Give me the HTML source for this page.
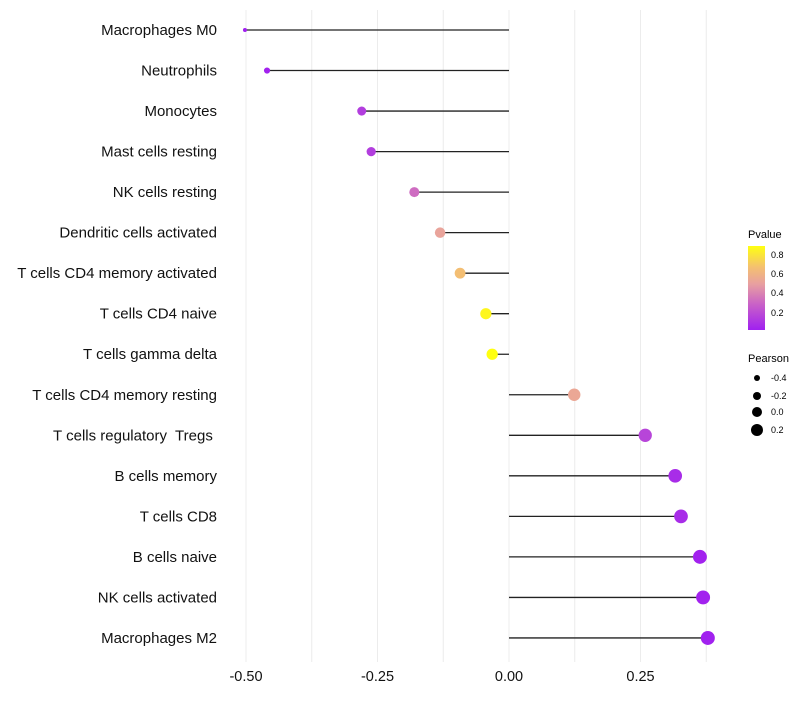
<!DOCTYPE html>
<html><head><meta charset="utf-8"><style>
body{margin:0;background:#fff;font-family:"Liberation Sans",sans-serif}
</style></head><body>
<svg id="chart" width="800" height="700" xmlns="http://www.w3.org/2000/svg">
<defs><linearGradient id="pg" x1="0" y1="1" x2="0" y2="0">
<stop offset="0" stop-color="#a020f0"/><stop offset="0.3" stop-color="#c860c8"/><stop offset="0.55" stop-color="#e8a0a0"/><stop offset="0.75" stop-color="#f4c070"/><stop offset="1" stop-color="#ffff10"/>
</linearGradient></defs>
<g id="grid"></g><g id="marks"></g><g id="labels"></g>
<g>
<text x="748" y="238" font-size="11">Pvalue</text>
<rect x="748" y="246" width="17" height="84" fill="url(#pg)"/>
<text x="771" y="258" font-size="9">0.8</text><text x="771" y="277" font-size="9">0.6</text>
<text x="771" y="296" font-size="9">0.4</text><text x="771" y="316" font-size="9">0.2</text>
</g>
<g>
<text x="748" y="362" font-size="11">Pearson</text>
<circle cx="757" cy="378" r="3"/><text x="771" y="381" font-size="9">-0.4</text>
<circle cx="757" cy="396" r="4"/><text x="771" y="399" font-size="9">-0.2</text>
<circle cx="757" cy="412" r="5"/><text x="771" y="415" font-size="9">0.0</text>
<circle cx="757" cy="430" r="6"/><text x="771" y="433" font-size="9">0.2</text>
</g>
</svg>
<script>
const categories=["Macrophages M0","Neutrophils","Monocytes","Mast cells resting","NK cells resting","Dendritic cells activated","T cells CD4 memory activated","T cells CD4 naive","T cells gamma delta","T cells CD4 memory resting","T cells regulatory  Tregs ","B cells memory","T cells CD8","B cells naive","NK cells activated","Macrophages M2"];
const pearson=[-0.502,-0.46,-0.28,-0.262,-0.18,-0.131,-0.093,-0.044,-0.032,0.124,0.259,0.316,0.327,0.363,0.369,0.378];
const pvalue=[0.001,0.01,0.12,0.12,0.3,0.5,0.65,0.85,0.9,0.52,0.15,0.05,0.05,0.01,0.01,0.005];
const ticks=[-0.5,-0.25,0,0.25];
const tickLabels=["-0.50","-0.25","0.00","0.25"];
const NS="http://www.w3.org/2000/svg";
const x=v=>509+v*526;
const y=i=>30+i*40.53;
const rad=v=>2+5*Math.sqrt(Math.max(0,(v+0.502)/0.88));
const stops=[[0,[160,32,240]],[0.26,[200,96,200]],[0.48,[232,160,160]],[0.66,[244,192,112]],[0.88,[255,255,16]]];
function col(p){for(let k=1;k<stops.length;k++){if(p<=stops[k][0]){const a=stops[k-1],b=stops[k],t=(p-a[0])/(b[0]-a[0]);return"rgb("+a[1].map((c,j)=>Math.round(c+(b[1][j]-c)*Math.max(0,t))).join(",")+")";}}return"rgb(255,255,16)";}
function mk(t,a,p){const e=document.createElementNS(NS,t);for(const k in a)e.setAttribute(k,a[k]);p.appendChild(e);return e;}
const G=document.getElementById("grid"),M=document.getElementById("marks"),L=document.getElementById("labels");
for(let v=-0.5;v<=0.4;v+=0.125){const g=mk("line",{x1:x(v),x2:x(v),y1:10,y2:662,stroke:"#ececec","stroke-width":1},G);

}
ticks.forEach((t,i)=>{const e=mk("text",{x:x(t),y:681,"font-size":14.5,"text-anchor":"middle",fill:"#111"},L);e.textContent=tickLabels[i];

});
categories.forEach((c,i)=>{
const t=mk("text",{x:217,y:y(i)+5,"font-size":15,"text-anchor":"end",fill:"#111",style:"white-space:pre"},L);t.textContent=c;


const l=mk("line",{x1:x(0),x2:x(pearson[i]),y1:y(i),y2:y(i),stroke:"#222","stroke-width":1.3},M);


const p=mk("circle",{cx:x(pearson[i]),cy:y(i),r:rad(pearson[i]),fill:col(pvalue[i])},M);


});
</script>
</body></html>
